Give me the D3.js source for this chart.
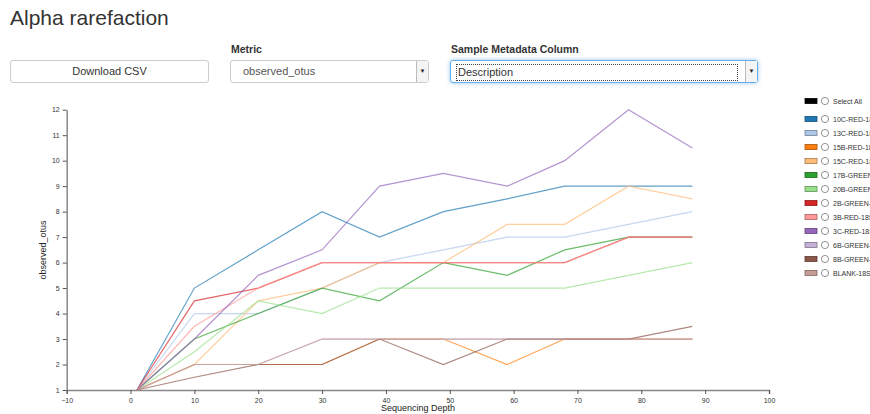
<!DOCTYPE html>
<html>
<head>
<meta charset="utf-8">
<script src="https://cdn.jsdelivr.net/npm/d3@7"></script>
<style>
  body { margin: 0; width: 870px; height: 414px; overflow: hidden; background: #fff;
         font-family: "Liberation Sans", Arial, Helvetica, sans-serif; color: #333; }
  h1 { position: absolute; left: 10px; top: 6px; margin: 0; font-size: 21px; font-weight: normal; color: #333; }
  .lbl { position: absolute; top: 43px; font-size: 10.5px; font-weight: bold; color: #333; }
  .btn, .sel { position: absolute; top: 60px; height: 23px; box-sizing: border-box; border: 1px solid #ccc;
               border-radius: 3px; background: #fff; font-size: 11px; line-height: 21px; }
  .btn { left: 10px; width: 199px; text-align: center; color: #333; }
  .sel { color: #555; padding-left: 12px; }
  .arrow { position: absolute; right: 0; top: 0; width: 11px; height: 21px; border-left: 1px solid #bbb;
           background: #f4f4f4; font-size: 6px; text-align: center; line-height: 21px; color: #222; }
  .focus { border-color: #66afe9; box-shadow: 0 0 4px rgba(102,175,233,0.7); }
  .dotted { position: absolute; left: 5px; top: 3px; right: 19px; height: 15px; border: 1px dotted #444;
            line-height: 15px; padding-left: 1px; color: #333; }
  svg { position: absolute; left: 0; top: 0; }
</style>
</head>
<body>
<h1>Alpha rarefaction</h1>
<div class="btn">Download CSV</div>
<div class="lbl" style="left:231px">Metric</div>
<div class="sel" style="left:230px;width:199px">observed_otus<div class="arrow">&#9660;</div></div>
<div class="lbl" style="left:451px">Sample Metadata Column</div>
<div class="sel focus" style="left:450px;width:308px;padding-left:0"><div class="dotted">Description</div><div class="arrow">&#9660;</div></div>
<svg id="chart" width="870" height="414"></svg>
<script>
// Rarefaction depths (x) and mean observed OTUs per sample (y)
const depths = [1, 10, 20, 30, 39, 49, 59, 68, 78, 88];
const sampleNames = ["10C-RED-18S", "13C-RED-18S", "15B-RED-18S", "15C-RED-18S", "17B-GREEN-18S",
  "20B-GREEN-18S", "2B-GREEN-18S", "3B-RED-18S", "3C-RED-18S", "6B-GREEN-18S", "8B-GREEN-18S", "BLANK-18S"];
const sampleColors = ["#1f77b4", "#aec7e8", "#ff7f0e", "#ffbb78", "#2ca02c", "#98df8a",
  "#d62728", "#ff9896", "#9467bd", "#c5b0d5", "#8c564b", "#c49c94"];
const s10C  = [1, 5,   6.5, 8,   7,   8,   8.5, 9,   9,   9];
const s13C  = [1, 4,   4,   5,   6,   6.5, 7,   7,   7.5, 8];
const s15B  = [1, 2,   2,   2,   3,   3,   2,   3,   3,   3];
const s15C  = [1, 2,   4.5, 5,   6,   6,   7.5, 7.5, 9,   8.5];
const s17B  = [1, 3,   4,   5,   4.5, 6,   5.5, 6.5, 7,   7];
const s20B  = [1, 2.5, 4.5, 4,   5,   5,   5,   5,   5.5, 6];
const s2B   = [1, 4.5, 5,   6,   6,   6,   6,   6,   7,   7];
const s3B   = [1, 3.5, 5,   6,   6,   6,   6,   6,   7,   7];
const s3C   = [1, 3,   5.5, 6.5, 9,   9.5, 9,   10,  12,  10.5];
const s6B   = [1, 2,   2,   3,   3,   3,   3,   3,   3,   3];
const s8B   = [1, 1.5, 2,   2,   3,   2,   3,   3,   3,   3.5];
const sBLANK = [1, 2,  2,   3,   3,   3,   3,   3,   3,   3];
const sampleValues = [s10C, s13C, s15B, s15C, s17B, s20B, s2B, s3B, s3C, s6B, s8B, sBLANK];
const xTicks = [-10, 0, 10, 20, 30, 40, 50, 60, 70, 80, 90, 100];
const yTicks = [1, 2, 3, 4, 5, 6, 7, 8, 9, 10, 11, 12];

const svg = d3.select("#chart");
const x = d3.scaleLinear().domain([-10, 100]).range([66.7, 769]);
const y = d3.scaleLinear().domain([1, 12]).range([390, 109.7]);

// axes
const xAxis = svg.append("g").attr("transform", "translate(0,390)")
  .call(d3.axisBottom(x).tickValues(xTicks).tickSize(4).tickSizeOuter(4).tickFormat(d3.format("d")));
const yAxis = svg.append("g").attr("transform", "translate(66.7,0)")
  .call(d3.axisLeft(y).tickValues(yTicks).tickSize(4).tickSizeOuter(0).tickFormat(d3.format("d")));
[xAxis, yAxis].forEach(g => {
  g.select(".domain").attr("stroke", "#888").attr("stroke-width", 1.5);
  g.selectAll(".tick line").attr("stroke", "#555");
  g.selectAll(".tick text").attr("fill", "#333").style("font-size", "7px")
    .style("font-family", "Liberation Sans, Arial, sans-serif");
});
xAxis.selectAll(".tick text").attr("dy", "0.9em");

svg.append("text").attr("x", 418).attr("y", 411).attr("text-anchor", "middle")
  .style("font-size", "9px").attr("fill", "#222").text("Sequencing Depth");
svg.append("text").attr("transform", "translate(46,250) rotate(-90)").attr("text-anchor", "middle")
  .style("font-size", "9px").attr("fill", "#222").text("observed_otus");

// rarefaction lines
const line = d3.line().x((d, i) => x(depths[i])).y(d => y(d));
svg.append("g").selectAll("path").data(sampleValues).join("path")
  .attr("d", line).attr("fill", "none")
  .attr("stroke", (d, i) => sampleColors[i]).attr("stroke-width", 1.2).attr("stroke-opacity", 0.7);

// legend
const legend = svg.append("g").style("font-family", "Liberation Sans, Arial, sans-serif");
const entries = [{ name: "Select All", color: "#000" }]
  .concat(sampleNames.map((n, i) => ({ name: n, color: sampleColors[i] })));
const rowY = (d, i) => i === 0 ? 101 : 105 + 14 * i;
const rows = legend.selectAll("g").data(entries).join("g")
  .attr("transform", (d, i) => `translate(0,${rowY(d, i)})`);
rows.append("rect").attr("x", 805).attr("y", -2.5).attr("width", 12).attr("height", 5)
  .attr("fill", d => d.color).attr("stroke", d => d3.color(d.color).darker(1.2)).attr("stroke-width", 0.8);
rows.append("circle").attr("cx", 825).attr("cy", 0).attr("r", 3.6)
  .attr("fill", "#fff").attr("stroke", "#777").attr("stroke-width", 0.8);
rows.append("text").attr("x", 833).attr("y", 2.6).style("font-size", "7px").attr("fill", "#333")
  .text(d => d.name);
</script>
</body>
</html>
